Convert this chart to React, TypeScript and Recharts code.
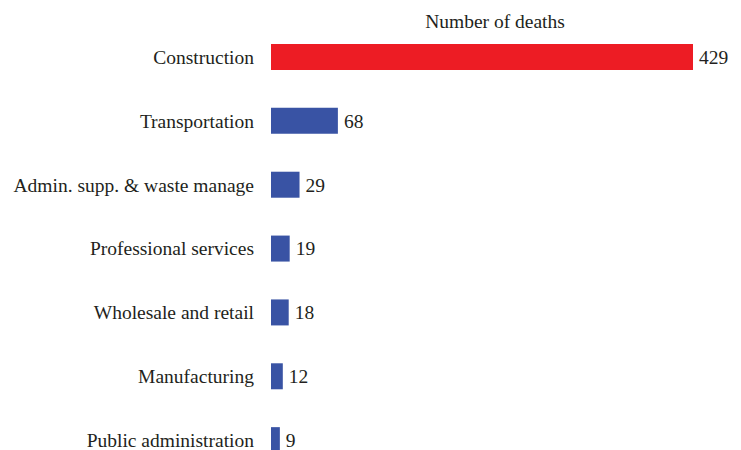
import { Bar, BarChart, Cell, LabelList, XAxis, YAxis } from "recharts";

const categories = [
  "Construction",
  "Transportation",
  "Admin. supp. & waste manage",
  "Professional services",
  "Wholesale and retail",
  "Manufacturing",
  "Public administration",
];
const deaths = [429, 68, 29, 19, 18, 12, 9];
const barColors = ["#ED1C24", "#3953A4", "#3953A4", "#3953A4", "#3953A4", "#3953A4", "#3953A4"];

const data = categories.map((name, i) => ({ name, deaths: deaths[i] }));

const FONT = '"Liberation Serif", "Times New Roman", serif';
const INK = "#231F20";

export default function App() {
  return (
    <div style={{ position: "absolute", left: 0, top: 0, width: 741, height: 450, background: "#fff", fontFamily: FONT }}>
      <div
        style={{
          position: "absolute",
          left: 271,
          width: 448,
          top: 10,
          textAlign: "center",
          fontSize: 19.5,
          color: INK,
          lineHeight: "24px",
        }}
      >
        Number of deaths
      </div>
      <BarChart
        width={741}
        height={450}
        data={data}
        layout="vertical"
        margin={{ top: 25, right: 48, bottom: -22, left: 0 }}
        barCategoryGap={0}
      >
        <XAxis type="number" hide domain={[0, 429]} />
        <YAxis
          type="category"
          dataKey="name"
          width={271}
          axisLine={false}
          tickLine={false}
          tickSize={0}
          tickMargin={17}
          tick={{ fontSize: 19.5, fill: INK, fontFamily: FONT }}
          interval={0}
        />
        <Bar dataKey="deaths" barSize={26} isAnimationActive={false}>
          {data.map((_, i) => (
            <Cell key={`c-${i}`} fill={barColors[i]} />
          ))}
          <LabelList
            dataKey="deaths"
            position="right"
            offset={6}
            style={{ fontSize: 19.5, fill: INK, fontFamily: FONT }}
          />
        </Bar>
      </BarChart>
    </div>
  );
}
